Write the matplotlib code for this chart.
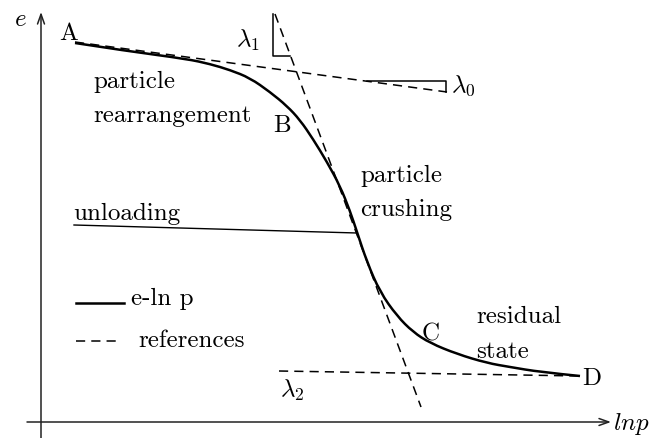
import matplotlib.pyplot as plt
from matplotlib.path import Path
from matplotlib.patches import PathPatch

# e-ln p 示意圖：座標直接沿用參考圖的像素座標 (y 向下)
curve_x = [75, 127, 187, 210, 230, 250, 270, 287, 300, 313, 327, 340, 350, 357,
           367, 380, 397, 413, 430, 457, 487, 510, 540, 580]
curve_y = [44, 52, 60, 65, 71, 79, 93, 107, 121, 140, 163, 187, 212, 233,
           263, 293, 317, 333, 344, 355, 364, 368, 373, 377]

# 參考切線 (虛線)
lam0_x, lam0_y = [75, 447], [43, 93]
lam1_x, lam1_y = [275, 421], [15, 408]
lam2_x, lam2_y = [279, 580], [372, 377]

# 斜率小三角形 (實線)
tri0_x, tri0_y = [367, 446, 446], [82, 82, 93]
tri1_x, tri1_y = [273, 273, 290], [15, 57, 57]

# 卸載線
unload_x, unload_y = [74, 357], [226, 234]

plt.rcParams['font.family'] = 'serif'
plt.rcParams['font.serif'] = ['cmr10']
plt.rcParams['mathtext.fontset'] = 'cm'
plt.rcParams['axes.unicode_minus'] = False


def smooth_path(xs, ys):
    """以各點為二次 Bezier 控制點 (經過相鄰中點) 畫平滑曲線。"""
    pts = list(zip(xs, ys))
    verts = [pts[0]]
    codes = [Path.MOVETO]
    for i in range(1, len(pts) - 1):
        mid = ((pts[i][0] + pts[i + 1][0]) / 2, (pts[i][1] + pts[i + 1][1]) / 2)
        if i == len(pts) - 2:
            mid = pts[-1]
        verts += [pts[i], mid]
        codes += [Path.CURVE3, Path.CURVE3]
    return Path(verts, codes)


fig = plt.figure(figsize=(6.61, 4.39), dpi=100)
ax = fig.add_axes([0, 0, 1, 1])
ax.set_xlim(0, 661)
ax.set_ylim(439, 0)
ax.axis('off')

dash = (0, (6, 4))
ax.add_patch(PathPatch(smooth_path(curve_x, curve_y), facecolor='none',
                       edgecolor='black', lw=1.8))
for xs, ys in [(lam0_x, lam0_y), (lam1_x, lam1_y), (lam2_x, lam2_y)]:
    ax.plot(xs, ys, color='black', lw=1.1, linestyle=dash)
for xs, ys in [(tri0_x, tri0_y), (tri1_x, tri1_y)]:
    ax.plot(xs, ys, color='black', lw=1.1)
ax.plot(unload_x, unload_y, color='black', lw=1.0)

# 座標軸箭頭
arrow = dict(arrowstyle='->,head_length=0.7,head_width=0.25', lw=1.1,
             color='#222222', shrinkA=0, shrinkB=0)
ax.annotate('', xy=(41, 13), xytext=(41, 439), arrowprops=arrow)
ax.annotate('', xy=(611, 423), xytext=(27, 423), arrowprops=arrow)

# 圖例
ax.plot([76, 124], [304, 304], color='black', lw=1.8)
ax.plot([76, 117], [342, 342], color='black', lw=1.1, linestyle=dash)

fs = 18
txt = dict(fontsize=fs, color='black')
ax.text(131, 305, 'e-ln p', ha='left', va='baseline', **txt)
ax.text(138, 347, 'references', ha='left', va='baseline', **txt)

ax.text(93, 88, 'particle', ha='left', va='baseline', **txt)
ax.text(93, 122, 'rearrangement', ha='left', va='baseline', **txt)
ax.text(360, 182, 'particle', ha='left', va='baseline', **txt)
ax.text(360, 216, 'crushing', ha='left', va='baseline', **txt)
ax.text(73, 220, 'unloading', ha='left', va='baseline', **txt)
ax.text(476, 323, 'residual', ha='left', va='baseline', **txt)
ax.text(476, 358, 'state', ha='left', va='baseline', **txt)

ax.text(59, 40, 'A', ha='left', va='baseline', **txt)
ax.text(273, 132, 'B', ha='left', va='baseline', **txt)
ax.text(422, 341, 'C', ha='left', va='baseline', **txt)
ax.text(582, 385, 'D', ha='left', va='baseline', **txt)

ax.text(236, 47, r'$\lambda_1$', ha='left', va='baseline', **txt)
ax.text(451, 92, r'$\lambda_0$', ha='left', va='baseline', **txt)
ax.text(280, 397, r'$\lambda_2$', ha='left', va='baseline', **txt)

ax.text(14, 26, r'$e$', ha='left', va='baseline', **txt)
ax.text(613, 430, r'$lnp$', ha='left', va='baseline', **txt)

plt.savefig('out.png', dpi=100)
